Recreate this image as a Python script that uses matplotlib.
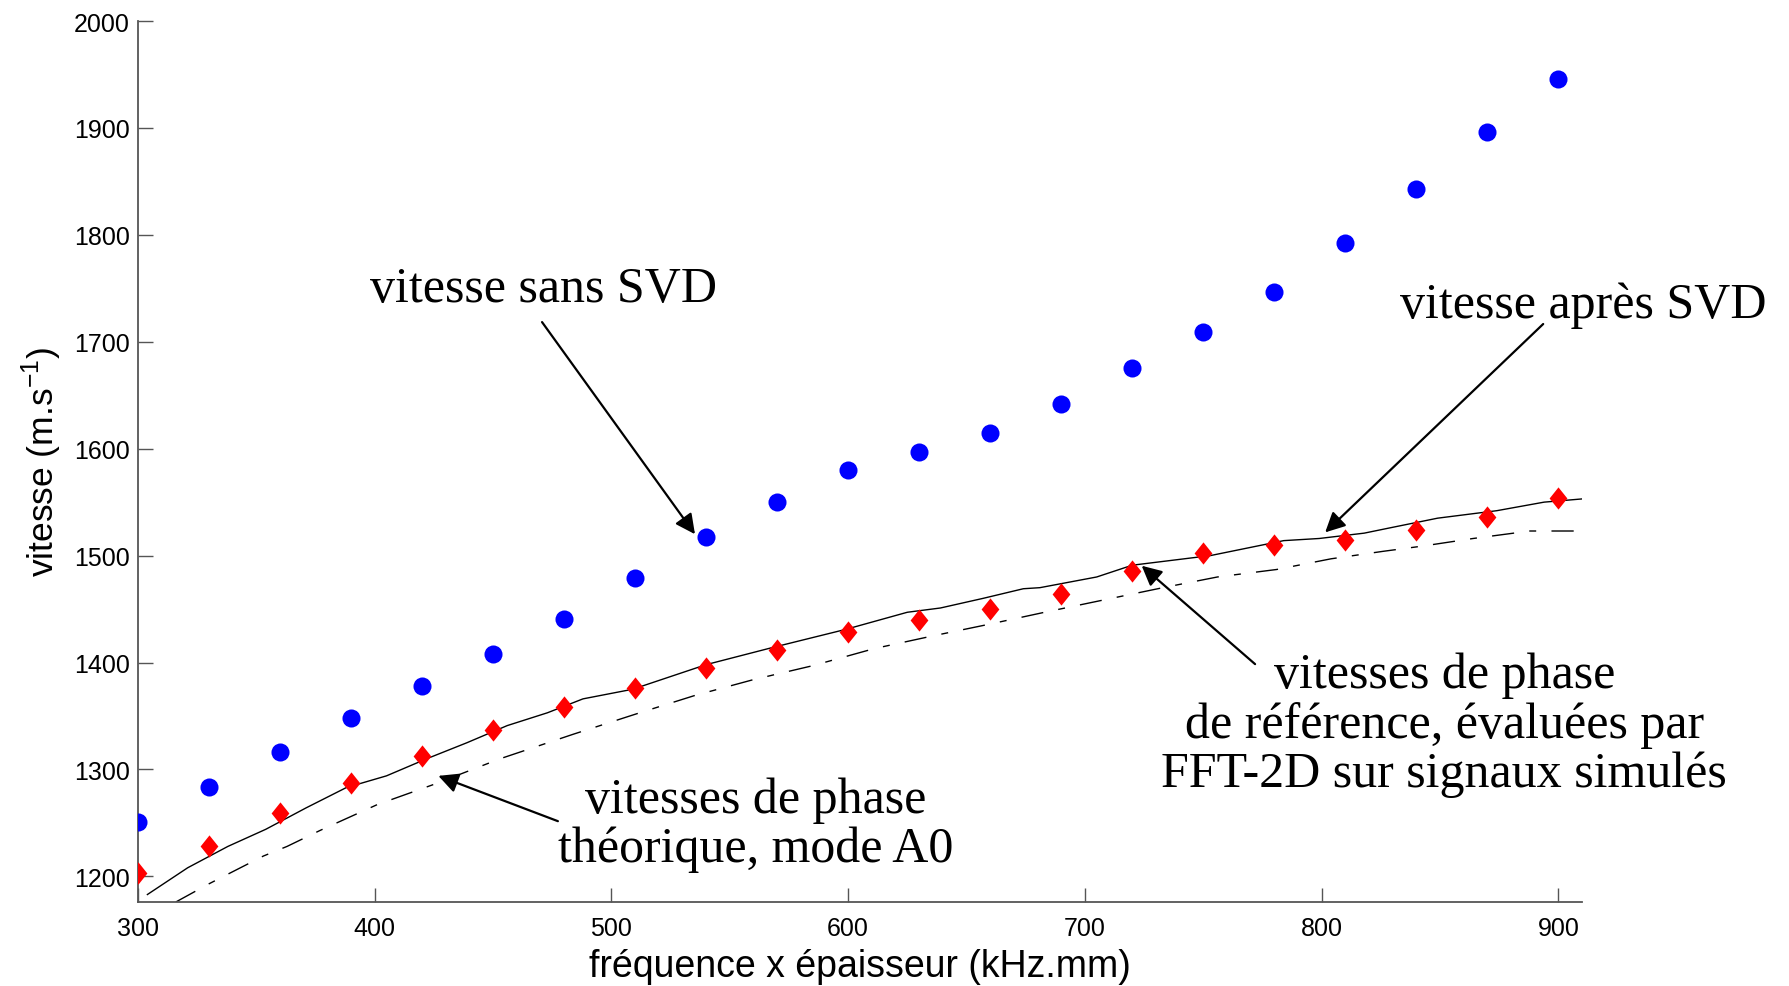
import numpy as np
import matplotlib
matplotlib.use("Agg")
import matplotlib.pyplot as plt
from matplotlib.path import Path

plt.rcParams.update({
    'font.family': 'Liberation Sans',
    'lines.scale_dashes': False,
})

# frequency x thickness (kHz.mm) of the measured points
fd_points = [300, 330, 360, 390, 420, 450, 480, 510, 540, 570, 600,
             630, 660, 690, 720, 750, 780, 810, 840, 870, 900]

# phase velocity without SVD (blue dots)
v_sans_svd = [1251, 1284, 1316, 1348, 1378, 1408, 1441, 1479, 1517, 1550, 1580,
              1597, 1615, 1642, 1675, 1709, 1747, 1792, 1843, 1896, 1946]

# phase velocity after SVD (red diamonds)
v_apres_svd = [1203, 1228, 1259, 1287, 1313, 1337, 1358, 1376, 1395, 1412, 1429,
               1440, 1450, 1464, 1486, 1502, 1510, 1515, 1524, 1536, 1554]

# reference curve, FFT-2D on simulated signals (solid)
fd_ref = [304, 321, 338, 354, 371, 388, 405, 422, 439, 456, 473, 488, 509, 540,
          568, 599, 625, 639, 657, 674, 681, 705, 720, 753, 784, 799, 818, 829,
          849, 874, 894, 910]
v_ref = [1183, 1208, 1228, 1244, 1264, 1283, 1294, 1310, 1325, 1341, 1353, 1366,
         1375, 1398, 1414, 1431, 1447, 1451, 1460, 1469, 1470, 1480, 1491, 1500,
         1514, 1516, 1521, 1526, 1535, 1542, 1550, 1553]

# theoretical A0 mode (dash-dot)
fd_theo = [316, 330, 353, 363, 377, 401, 425, 453, 484, 512, 535, 560, 585, 611,
           636, 660, 683, 709, 733, 756, 781, 804, 826, 843, 864, 888, 908]
v_theo = [1176, 1193, 1219, 1228, 1243, 1267, 1286, 1310, 1333, 1353, 1369, 1384,
          1397, 1413, 1425, 1436, 1447, 1459, 1470, 1480, 1487, 1497, 1504, 1509,
          1516, 1523, 1523]

SPINE = '#555555'
SERIF = 'Liberation Serif'
ANN_SIZE = 36

# MATLAB style diamond (wider than matplotlib's 'd')
diamond = Path([(0, 1), (0.8, 0), (0, -1), (-0.8, 0), (0, 1)],
               [Path.MOVETO, Path.LINETO, Path.LINETO, Path.LINETO, Path.CLOSEPOLY])

fig = plt.figure(figsize=(17.89, 9.87), dpi=100)
ax = fig.add_axes([0.0771, 0.0851, 0.8072, 0.8926])

ax.plot(fd_ref, v_ref, color='black', lw=1.0, zorder=2)
ax.plot(fd_theo, v_theo, color='black', lw=1.0, linestyle=(0, (16, 11, 5, 11)), zorder=2)
ax.plot(fd_points, v_sans_svd, 'o', color='#0000ff', markersize=13, mec='none', zorder=3)
ax.plot(fd_points, v_apres_svd, marker=diamond, ls='none', color='#ff0000',
        markersize=16, mec='none', zorder=3)

ax.set_xlim(300, 910)
ax.set_ylim(1176, 2000)
ax.set_xticks(np.arange(300, 901, 100))
ax.set_yticks(np.arange(1200, 2001, 100))

for side in ['top', 'right']:
    ax.spines[side].set_visible(False)
for side in ['left', 'bottom']:
    ax.spines[side].set_color(SPINE)
    ax.spines[side].set_linewidth(1.3)

ax.tick_params(axis='both', direction='in', color=SPINE, width=1.0,
               labelsize=18, labelcolor='black')
ax.tick_params(axis='x', length=10, pad=10)
ax.tick_params(axis='y', length=11, pad=6)

ax.set_xlabel('fréquence x épaisseur (kHz.mm)', fontsize=27, labelpad=6)
ax.set_ylabel('vitesse (m.s$^{\\mathregular{-1}}$)', fontsize=25.5, labelpad=7)

arrow = dict(arrowstyle='-|>', color='black', lw=1.6, mutation_scale=30,
             shrinkA=0, shrinkB=0)

ax.annotate('', xy=(535.3, 1520), xytext=(470.7, 1718.4), arrowprops=arrow)
ax.text(471.5, 1738, 'vitesse sans SVD', family=SERIF, fontsize=ANN_SIZE,
        ha='center', va='baseline')

ax.annotate('', xy=(801.5, 1521.7), xytext=(893.6, 1716.6), arrowprops=arrow,
            annotation_clip=False)
ax.text(910.5, 1723, 'vitesse après SVD', family=SERIF, fontsize=ANN_SIZE,
        ha='center', va='baseline', clip_on=False)

# multi-line labels: the baseline given is the one of the last line
ax.annotate('', xy=(724, 1490.5), xytext=(771.9, 1398.5), arrowprops=arrow)
ax.text(851.8, 1284.4, 'vitesses de phase\nde référence, évaluées par\nFFT-2D sur signaux simulés',
        family=SERIF, fontsize=ANN_SIZE, ha='center', va='baseline',
        multialignment='center', linespacing=1.08, clip_on=False)

ax.annotate('', xy=(426.9, 1294), xytext=(477.4, 1251.6), arrowprops=arrow)
ax.text(561, 1214.2, 'vitesses de phase\nthéorique, mode A0', family=SERIF,
        fontsize=ANN_SIZE, ha='center', va='baseline', multialignment='center',
        linespacing=1.08)

fig.savefig('out.png', dpi=100, facecolor='white')
